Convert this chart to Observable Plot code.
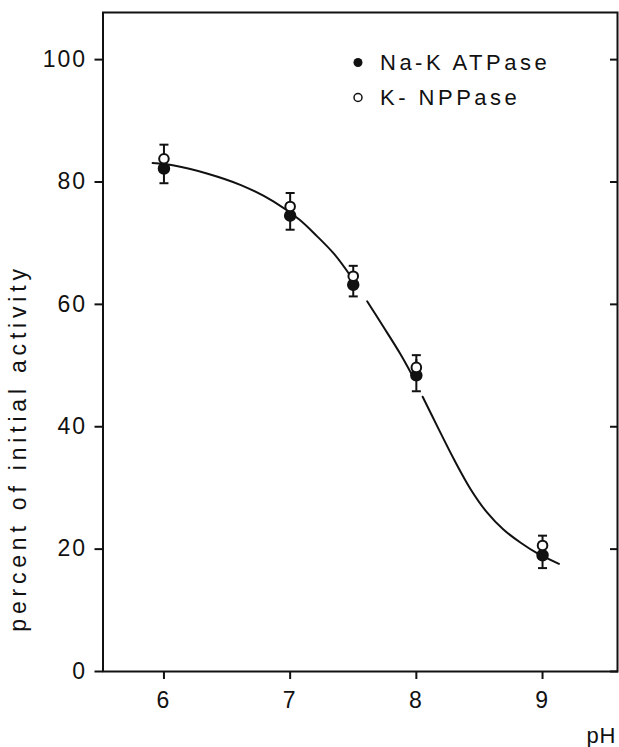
<!DOCTYPE html>
<html>
<head>
<meta charset="utf-8">
<script src="https://cdn.jsdelivr.net/npm/d3@7"></script>
<script src="https://cdn.jsdelivr.net/npm/@observablehq/plot@0.6"></script>
<style>
  html, body { margin: 0; padding: 0; background: #fff; }
  #chart svg { display: block; }
  #chart svg text { letter-spacing: 2px; }
  #chart svg .legend-text text { letter-spacing: 3.5px; }
  #chart svg .ylab text { letter-spacing: 4.8px; }
  #chart svg .xlab text { letter-spacing: 1px; }
</style>
</head>
<body>
<div id="chart"></div>
<script>
// ---- data ----
const phLevels = [6, 7, 7.5, 8, 9];
const naKATPase = [82.2, 74.5, 63.2, 48.4, 19.0];
const naKErr = [2.4, 2.3, 1.9, 2.6, 2.1];
const kNPPase = [83.8, 76.0, 64.6, 49.7, 20.6];
const kNPPErr = [2.3, 2.2, 1.7, 2.0, 1.6];

// fitted curve (three drawn pieces)
const curvePH  = [5.91, 6.08, 6.34, 6.61, 6.87, 7.07, 7.21, 7.35, 7.48,
                  7.61, 7.74, 7.87, 7.97,
                  8.05, 8.17, 8.30, 8.43, 8.56, 8.69, 8.83, 8.96, 9.13];
const curveVal = [83.1, 82.7, 81.4, 79.5, 76.8, 73.9, 71.2, 68.2, 64.6,
                  60.5, 56.3, 52.0, 48.3,
                  44.9, 39.9, 34.6, 29.8, 26.0, 23.2, 21.0, 19.3, 17.6];
const curveSeg = [1,1,1,1,1,1,1,1,1, 2,2,2,2, 3,3,3,3,3,3,3,3,3];

const xTicks = [6, 7, 8, 9];
const yTicks = [0, 20, 40, 60, 80, 100];
const seriesNames = ["Na-K ATPase", "K- NPPase"];
const xLabel = "pH";
const yLabel = "percent of initial activity";

// ---- tables ----
const pts = phLevels.map((ph, i) => ({ph, na: naKATPase[i], naE: naKErr[i], np: kNPPase[i], npE: kNPPErr[i]}));
const curve = curvePH.map((ph, i) => ({ph, v: curveVal[i], seg: curveSeg[i]}));

const cap = { draw(ctx) { ctx.moveTo(-4.5, 0); ctx.lineTo(4.5, 0); } };
const font = "'Liberation Sans', Arial, Helvetica, sans-serif";

const chart = Plot.plot({
  width: 619,
  height: 747,
  marginLeft: 102.5,
  marginRight: 2,
  marginTop: 12,
  marginBottom: 76,
  style: { fontFamily: font, fontSize: "22px", color: "#111", background: "#fff" },
  x: { domain: [5.517, 9.594] },
  y: { domain: [0, 107.7] },
  marks: [
    Plot.frame({ stroke: "#111", strokeWidth: 2 }),
    Plot.axisX(xTicks, { tickSize: 8, tickPadding: 12, strokeWidth: 2, fontSize: 23, tickFormat: "d", label: null }),
    Plot.axisY(yTicks, { tickSize: 8, tickPadding: 8, strokeWidth: 2, fontSize: 23, tickFormat: "d", label: null }),
    Plot.axisY(yTicks, { anchor: "right", tickSize: -8, strokeWidth: 2, text: null, label: null }),
    Plot.text([xLabel], { frameAnchor: "bottom-right", text: d => d, textAnchor: "end", lineAnchor: "middle", dx: -1, dy: 64, fontSize: 22, className: "xlab" }),
    Plot.text([yLabel], { frameAnchor: "left", text: d => d, rotate: -90, textAnchor: "middle", lineAnchor: "middle", dx: -84, dy: 106, fontSize: 23, className: "ylab" }),
    // error bars
    Plot.ruleX(pts, { x: "ph", y1: d => d.na - d.naE, y2: d => d.na + d.naE, stroke: "#111", strokeWidth: 2 }),
    Plot.ruleX(pts, { x: "ph", y1: d => d.np - d.npE, y2: d => d.np + d.npE, stroke: "#111", strokeWidth: 2 }),
    Plot.dot(pts, { x: "ph", y: d => d.na - d.naE, symbol: cap, stroke: "#111", strokeWidth: 2, fill: "none" }),
    Plot.dot(pts, { x: "ph", y: d => d.np + d.npE, symbol: cap, stroke: "#111", strokeWidth: 2, fill: "none" }),
    // curve
    Plot.line(curve, { x: "ph", y: "v", z: "seg", curve: "catmull-rom", stroke: "#111", strokeWidth: 2 }),
    // points
    Plot.dot(pts, { x: "ph", y: "na", r: 5.5, fill: "#111", stroke: "#111" }),
    Plot.dot(pts, { x: "ph", y: "np", r: 4.8, fill: "#fff", stroke: "#111", strokeWidth: 2 }),
    // legend
    Plot.dot([seriesNames[0]], { frameAnchor: "top-left", dx: 255, dy: 50, r: 4.5, fill: "#111" }),
    Plot.text([seriesNames[0]], { frameAnchor: "top-left", text: d => d, dx: 277, dy: 50, textAnchor: "start", lineAnchor: "middle", fontSize: 22, className: "legend-text" }),
    Plot.dot([seriesNames[1]], { frameAnchor: "top-left", dx: 255, dy: 85, r: 4, fill: "#fff", stroke: "#111", strokeWidth: 1.5 }),
    Plot.text([seriesNames[1]], { frameAnchor: "top-left", text: d => d, dx: 277, dy: 85, textAnchor: "start", lineAnchor: "middle", fontSize: 22, className: "legend-text" })
  ]
});
document.getElementById("chart").appendChild(chart);
</script>
</body>
</html>
